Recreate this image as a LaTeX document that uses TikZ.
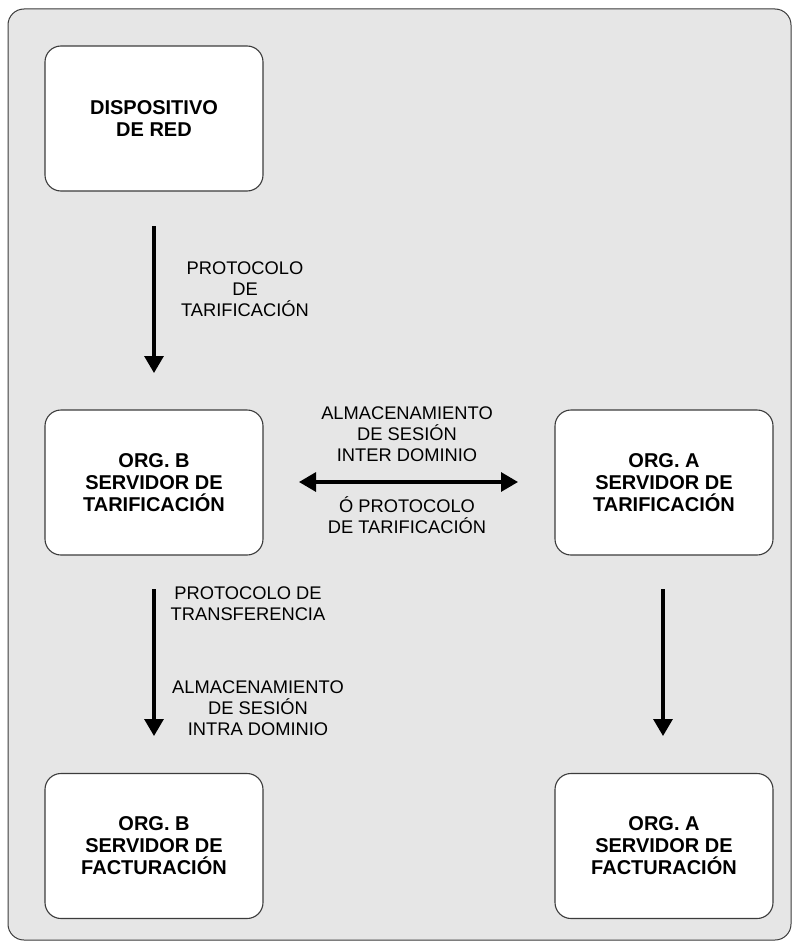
\documentclass[tikz,border=0pt]{standalone}
\usepackage{fontspec}
\setmainfont{Liberation Sans}
\usetikzlibrary{arrows.meta}
\definecolor{bggrey}{RGB}{230,230,230}
\definecolor{edgegrey}{RGB}{60,60,60}
\begin{document}
\begin{tikzpicture}[x=1pt,y=-1pt,
  box/.style={draw=edgegrey,line width=1.1pt,fill=white,rounded corners=16pt,minimum width=218pt,minimum height=145pt,align=center,font=\fontsize{20}{22}\selectfont\bfseries,inner sep=0pt},
  lbl/.style={align=center,font=\fontsize{18.3}{21}\selectfont,inner sep=0pt},
  arr/.style={line width=3.2pt,-{Triangle[width=19pt,length=17pt]}},
  darr/.style={line width=3.2pt,{Triangle[width=19pt,length=17pt]}-{Triangle[width=19pt,length=17pt]}}]
\useasboundingbox (0,0) rectangle (799,950);
\fill[white] (0,0) rectangle (799,950);
\draw[draw=edgegrey,line width=1pt,fill=bggrey,rounded corners=16pt] (8,9) rectangle (791,940);
\node[box] (dev) at (154,118.5) {DISPOSITIVO\\DE RED};
\node[box] (bt) at (154,482.5) {ORG. B\\SERVIDOR DE\\TARIFICACIÓN};
\node[box] (at) at (664,482.5) {ORG. A\\SERVIDOR DE\\TARIFICACIÓN};
\node[box] (bf) at (154,846) {ORG. B\\SERVIDOR DE\\FACTURACIÓN};
\node[box] (af) at (664,846) {ORG. A\\SERVIDOR DE\\FACTURACIÓN};
\coordinate (a1s) at (154,226); \coordinate (a1e) at (154,373);
\coordinate (a2s) at (154,589); \coordinate (a2e) at (154,736);
\coordinate (a3s) at (663,589); \coordinate (a3e) at (663,736);
\coordinate (dls) at (299,482); \coordinate (dle) at (518,482);
\draw[arr] (a1s) -- (a1e);
\draw[arr] (a2s) -- (a2e);
\draw[arr] (a3s) -- (a3e);
\draw[darr] (dls) -- (dle);
\node[lbl] (l1) at (245,289) {PROTOCOLO\\DE\\TARIFICACIÓN};
\node[lbl] (l2) at (407,434) {ALMACENAMIENTO\\DE SESIÓN\\INTER DOMINIO};
\node[lbl] (l3) at (407,515.5) {Ó PROTOCOLO\\DE TARIFICACIÓN};
\node[lbl] (l4) at (248,603.5) {PROTOCOLO DE\\TRANSFERENCIA};
\node[lbl] (l5) at (258,708) {ALMACENAMIENTO\\DE SESIÓN\\INTRA DOMINIO};
\end{tikzpicture}
\end{document}
